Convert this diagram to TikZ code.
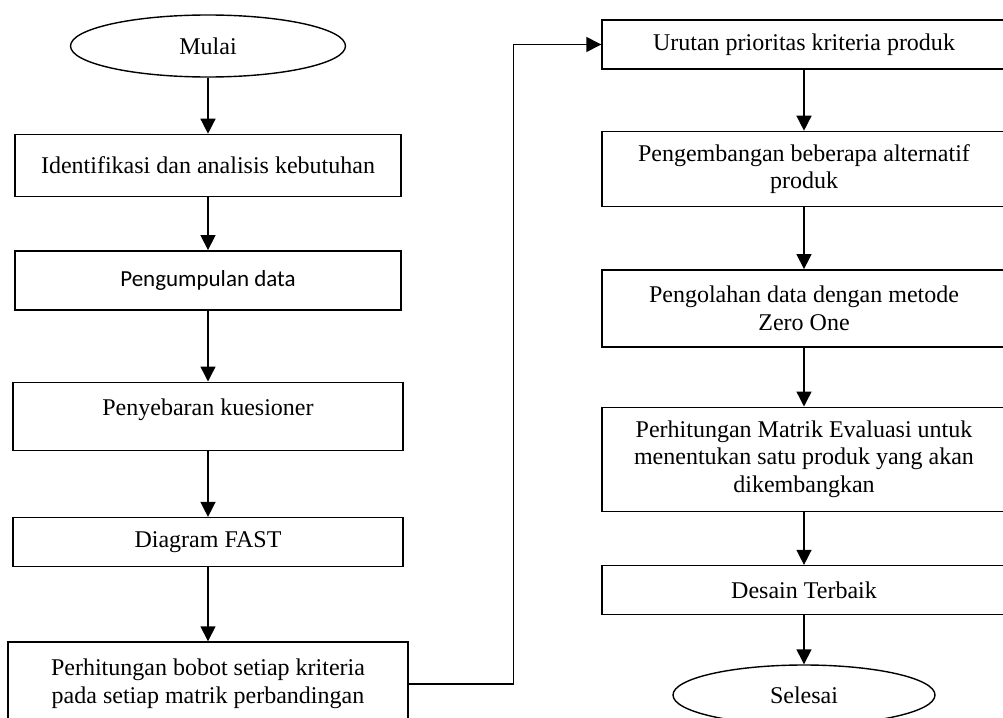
\documentclass[tikz,border=0pt]{standalone}
\usepackage{fontspec}
\setmainfont{Liberation Serif}
\newfontfamily\calibrifont{Carlito}
\usetikzlibrary{arrows.meta,positioning,shapes.geometric}
\tikzset{
  proses/.style={draw,line width=1.4pt,align=center,minimum width=404pt,inner sep=2pt,
    font=\fontsize{24}{27.5}\selectfont},
  terminal/.style={draw,ellipse,line width=1.4pt,minimum height=62pt,inner sep=0pt,
    font=\fontsize{24}{27.5}\selectfont},
  arr/.style={-{Triangle[length=15pt,width=15pt]},line width=1.4pt}
}

\begin{document}
\begin{tikzpicture}[x=1pt,y=-1pt]
 \useasboundingbox (0,0) rectangle (1003,717);
 % kolom kiri
 \node[terminal,minimum width=275pt] (mulai) at (208,46) {Mulai};
 \node[proses,minimum width=386pt,minimum height=62pt,below=56pt of mulai] (identifikasi) {Identifikasi dan analisis kebutuhan};
 \node[proses,minimum width=386pt,minimum height=59pt,below=53pt of identifikasi] (pengumpulan) {\calibrifont\fontsize{23}{27}\selectfont Pengumpulan data};
 \node[proses,minimum width=390pt,minimum height=68pt,text depth=19pt,below=71pt of pengumpulan] (penyebaran) {Penyebaran kuesioner};
 \node[proses,minimum width=390pt,minimum height=49pt,below=66pt of penyebaran] (fast) {Diagram FAST};
 \node[proses,minimum width=400pt,minimum height=84pt,below=74pt of fast] (bobot) {Perhitungan bobot setiap kriteria\\pada setiap matrik perbandingan};
 % kolom kanan
 \node[proses,minimum height=49pt] (urutan) at (804,44.5) {Urutan prioritas kriteria produk};
 \node[proses,minimum height=75pt,below=61pt of urutan] (pengembangan) {Pengembangan beberapa alternatif\\produk};
 \node[proses,minimum height=77pt,below=62pt of pengembangan] (pengolahan) {Pengolahan data dengan metode\\Zero One};
 \node[proses,minimum height=104pt,below=59pt of pengolahan] (evaluasi) {Perhitungan Matrik Evaluasi untuk\\menentukan satu produk yang akan\\dikembangkan};
 \node[proses,minimum height=49pt,below=53pt of evaluasi] (desain) {Desain Terbaik};
 \node[terminal,minimum width=262pt,minimum height=60pt,below=49pt of desain] (selesai) {Selesai};
 % panah
 \draw[arr] (mulai)--(identifikasi); \draw[arr] (identifikasi)--(pengumpulan);
 \draw[arr] (pengumpulan)--(penyebaran); \draw[arr] (penyebaran)--(fast);
 \draw[arr] (fast)--(bobot);
 \draw[arr] (bobot.east) -- ++(105,0) |- (urutan.west);
 \draw[arr] (urutan)--(pengembangan); \draw[arr] (pengembangan)--(pengolahan);
 \draw[arr] (pengolahan)--(evaluasi); \draw[arr] (evaluasi)--(desain);
 \draw[arr] (desain)--(selesai);
\end{tikzpicture}
\end{document}
